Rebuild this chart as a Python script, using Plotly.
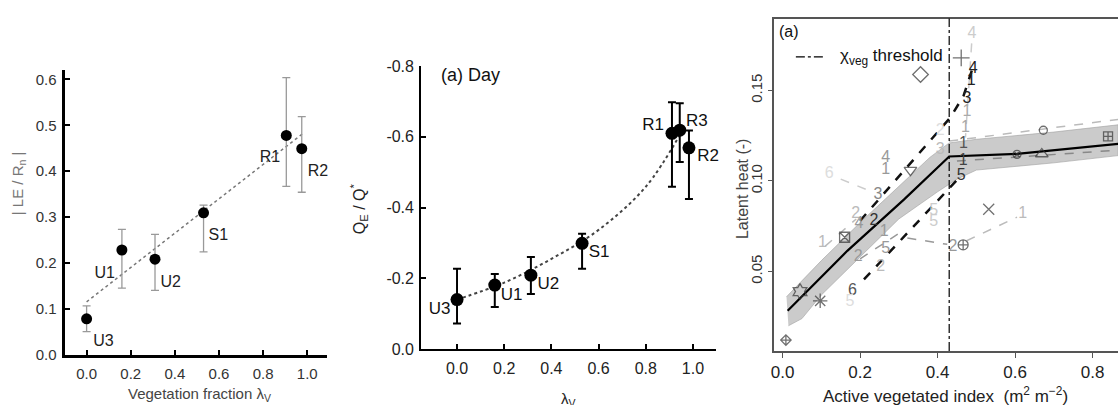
import plotly.graph_objects as go

W, H = 1118, 405
FONT = "Liberation Sans, Arial, sans-serif"

# ---------------- Panel 1 : |LE/Rn| vs vegetation fraction ----------------
p1_sites = ["U3", "U1", "U2", "S1", "R1", "R2"]
p1_x = [0.0, 0.16, 0.31, 0.53, 0.905, 0.975]
p1_y = [0.078, 0.228, 0.208, 0.309, 0.478, 0.449]
p1_hi = [0.106, 0.273, 0.262, 0.326, 0.604, 0.519]
p1_lo = [0.050, 0.145, 0.140, 0.224, 0.367, 0.354]
p1_lab_x = [0.076, 0.082, 0.381, 0.597, 0.831, 1.048]
p1_lab_y = [0.028, 0.176, 0.157, 0.258, 0.428, 0.398]
p1_fit_x = [0.0, 0.98]
p1_fit_y = [0.115, 0.482]
p1_xticks = [0.0, 0.2, 0.4, 0.6, 0.8, 1.0]
p1_yticks = [0.0, 0.1, 0.2, 0.3, 0.4, 0.5, 0.6]

# ---------------- Panel 2 : QE/Q* (day) ----------------
p2_sites = ["U3", "U1", "U2", "S1", "R1", "R3", "R2"]
p2_x = [0.0, 0.16, 0.313, 0.53, 0.911, 0.944, 0.983]
p2_y = [-0.140, -0.181, -0.209, -0.299, -0.610, -0.619, -0.569]
p2_hi = [-0.227, -0.212, -0.260, -0.326, -0.698, -0.695, -0.618]
p2_lo = [-0.072, -0.119, -0.156, -0.227, -0.459, -0.529, -0.424]
p2_lab_x = [-0.074, 0.231, 0.387, 0.602, 0.831, 1.017, 1.064]
p2_lab_y = [-0.111, -0.152, -0.181, -0.272, -0.632, -0.643, -0.545]
p2_fit_x = [0.0, 0.2, 0.4, 0.6, 0.8, 0.95]
p2_fit_y = [-0.140, -0.188, -0.255, -0.337, -0.459, -0.612]
p2_xticks = [0.0, 0.2, 0.4, 0.6, 0.8, 1.0]
p2_yticks = [0.0, -0.2, -0.4, -0.6, -0.8]

# ---------------- Panel 3 : latent heat vs active vegetated index ----------------
p3_threshold = 0.43
p3_main_x = [0.013, 0.167, 0.313, 0.43, 0.605, 0.75, 0.866]
p3_main_y = [0.0283, 0.0614, 0.0897, 0.1135, 0.1150, 0.1180, 0.1205]
p3_band_x = [0.01, 0.1, 0.2, 0.3, 0.38, 0.43, 0.5, 0.7, 0.866,
             0.866, 0.7, 0.5, 0.45, 0.4, 0.3, 0.2, 0.1, 0.05, 0.015]
p3_band_y = [0.036, 0.056, 0.077, 0.097, 0.113, 0.121, 0.123, 0.127, 0.131,
             0.114, 0.110, 0.106, 0.101, 0.094, 0.079, 0.058, 0.037, 0.024, 0.020]
p3_up_dash_x = [0.20, 0.433, 0.467, 0.49]
p3_up_dash_y = [0.078, 0.135, 0.147, 0.162]
p3_lo_dash_x = [0.21, 0.45]
p3_lo_dash_y = [0.0456, 0.1005]
# thin grey site-lines (x pairs, y pairs, colour)
p3_site_lines = [
    ([0.475, 0.605], [0.067, 0.080], "#bbbbbb"),
    ([0.322, 0.425], [0.0685, 0.065], "#999999"),
    ([0.150, 0.219], [0.101, 0.095], "#cccccc"),
    ([0.488, 0.472], [0.176, 0.124], "#cccccc"),
    ([0.43, 0.866], [0.122, 0.134], "#bbbbbb"),
    ([0.45, 0.866], [0.111, 0.117], "#888888"),
    ([0.11, 0.19], [0.064, 0.079], "#bbbbbb"),
    ([0.20, 0.30], [0.057, 0.071], "#999999"),
]
p3_mk_x = [0.356, 0.461, 0.673, 0.840, 0.669, 0.605, 0.330, 0.160, 0.466, 0.532, 0.045, 0.097, 0.0085]
p3_mk_y = [0.1588, 0.168, 0.128, 0.1246, 0.1149, 0.1147, 0.106, 0.0689, 0.0647, 0.0844, 0.0389, 0.0338, 0.0121]
p3_mk_sym = ["diamond-open", "cross-thin-open", "circle-open", "square-cross-open",
             "triangle-up-open", "circle-x-open", "triangle-down-open", "square-x-open",
             "circle-cross-open", "x-thin-open", "hexagram-open", "asterisk-open",
             "diamond-cross-open"]
p3_mk_size = [12, 12, 8, 9, 11, 8, 11, 10, 10, 11, 12, 12, 8]
p3_lab_txt = ["6", "4", "1", "3", "2", "3", "2", "5", "1", "1",
              "4", "4", "1", "3", "1", "1",
              "2", "4", "1", "1", "2", "5", "2", "6", "5", "5", "5", "2", "1"]
p3_lab_x = [0.120, 0.266, 0.266, 0.246, 0.236, 0.407, 0.407, 0.461, 0.466, 0.467,
            0.489, 0.492, 0.487, 0.476, 0.476, 0.472,
            0.189, 0.197, 0.103, 0.262, 0.195, 0.266, 0.253, 0.180, 0.174, 0.39, 0.39, 0.440, 0.620]
p3_lab_y = [0.1038, 0.1126, 0.1061, 0.0923, 0.078, 0.117, 0.1276, 0.1029, 0.1108, 0.1205,
            0.1814, 0.162, 0.155, 0.1452, 0.1382, 0.1290,
            0.0817, 0.0765, 0.0659, 0.072, 0.0579, 0.0623, 0.0526, 0.0394, 0.0329, 0.0835, 0.0774, 0.0636, 0.0815]
p3_lab_col = ["#dddddd", "#999999", "#999999", "#888888", "#333333", "#bbbbbb", "#dddddd", "#333333", "#444444", "#555555",
              "#cccccc", "#222222", "#222222", "#222222", "#aaaaaa", "#aaaaaa",
              "#bbbbbb", "#999999", "#bbbbbb", "#999999", "#999999", "#999999", "#bbbbbb", "#555555", "#dddddd", "#cccccc", "#cccccc", "#999999", "#bbbbbb"]
p3_xticks = [0.0, 0.2, 0.4, 0.6, 0.8]
p3_yticks = [0.05, 0.10, 0.15]


def px2x(px):
    return px / W


def px2y(py):
    return 1 - py / H


fig = go.Figure()

# ---- panel 1 traces ----
fig.add_trace(go.Scatter(x=p1_fit_x, y=p1_fit_y, mode="lines", xaxis="x", yaxis="y",
                         line=dict(color="#777777", width=1.5, dash="dot"), hoverinfo="skip"))
fig.add_trace(go.Scatter(
    x=p1_x, y=p1_y, mode="markers", xaxis="x", yaxis="y",
    marker=dict(color="black", size=11),
    error_y=dict(type="data", symmetric=False,
                 array=[h - v for h, v in zip(p1_hi, p1_y)],
                 arrayminus=[v - l for l, v in zip(p1_lo, p1_y)],
                 color="#999999", thickness=1.3, width=4)))
fig.add_trace(go.Scatter(x=p1_lab_x, y=p1_lab_y, text=p1_sites, mode="text", xaxis="x", yaxis="y",
                         cliponaxis=False, textfont=dict(family=FONT, size=16, color="#222222")))

# ---- panel 2 traces ----
fig.add_trace(go.Scatter(x=p2_fit_x, y=p2_fit_y, mode="lines", xaxis="x2", yaxis="y2",
                         line=dict(color="#444444", width=2, dash="dot", shape="spline")))
fig.add_trace(go.Scatter(
    x=p2_x, y=p2_y, mode="markers", xaxis="x2", yaxis="y2",
    marker=dict(color="black", size=13),
    error_y=dict(type="data", symmetric=False,
                 array=[h - v for h, v in zip(p2_hi, p2_y)],
                 arrayminus=[v - l for l, v in zip(p2_lo, p2_y)],
                 color="black", thickness=2, width=4)))
fig.add_trace(go.Scatter(x=p2_lab_x, y=p2_lab_y, text=p2_sites, mode="text", xaxis="x2", yaxis="y2",
                         cliponaxis=False, textfont=dict(family=FONT, size=17, color="#111111")))

# ---- panel 3 traces ----
fig.add_trace(go.Scatter(x=p3_band_x, y=p3_band_y, mode="lines", fill="toself", xaxis="x3", yaxis="y3",
                         fillcolor="rgba(185,185,185,0.75)", line=dict(color="rgba(160,160,160,0.6)", width=1)))
for sx, sy, col in p3_site_lines:
    fig.add_trace(go.Scatter(x=sx, y=sy, mode="lines", xaxis="x3", yaxis="y3",
                             line=dict(color=col, width=1.5, dash="dash")))
fig.add_trace(go.Scatter(x=p3_up_dash_x, y=p3_up_dash_y, mode="lines", xaxis="x3", yaxis="y3",
                         line=dict(color="#111111", width=2.5, dash="dash")))
fig.add_trace(go.Scatter(x=p3_lo_dash_x, y=p3_lo_dash_y, mode="lines", xaxis="x3", yaxis="y3",
                         line=dict(color="#111111", width=2.5, dash="dash")))
fig.add_trace(go.Scatter(x=p3_main_x, y=p3_main_y, mode="lines", xaxis="x3", yaxis="y3",
                         line=dict(color="black", width=2.2)))
fig.add_trace(go.Scatter(x=p3_lab_x, y=p3_lab_y, text=p3_lab_txt, mode="text", xaxis="x3", yaxis="y3",
                         textfont=dict(family=FONT, size=16, color=p3_lab_col)))
fig.add_trace(go.Scatter(x=p3_mk_x, y=p3_mk_y, mode="markers", xaxis="x3", yaxis="y3",
                         marker=dict(symbol=p3_mk_sym, size=p3_mk_size, color="#333333",
                                     line=dict(color="#333333", width=1.3))))

# threshold line
fig.add_shape(type="line", xref="x3", yref="y3 domain", x0=p3_threshold, x1=p3_threshold, y0=0, y1=1,
              line=dict(color="black", width=1.2, dash="dashdot"))
# legend sample
fig.add_shape(type="line", xref="paper", yref="paper", x0=px2x(795), x1=px2x(823), y0=px2y(51), y1=px2y(51),
              line=dict(color="black", width=1.2, dash="dashdot"))


def note(px, py, text, size, color, angle=0, xanchor="center"):
    return dict(x=px2x(px), y=px2y(py), xref="paper", yref="paper", xanchor=xanchor, yanchor="middle",
                text=text, showarrow=False, textangle=angle, font=dict(family=FONT, size=size, color=color))


ann = [
    note(837, 51, "χ<sub>veg</sub> threshold", 17, "#111", xanchor="left"),
    note(776, 25, "(a)", 16, "#111", xanchor="left"),
    note(437, 70, "(a) Day", 18, "#111", xanchor="left"),
    note(15, 183, "| LE / R<sub>n</sub> |", 15, "#777", angle=-90),
    note(197, 403, "Vegetation fraction λ<sub>V</sub>", 15, "#444"),
    note(357, 210, "Q<sub>E</sub> / Q<sup>*</sup>", 16, "#222", angle=-90),
    note(567, 409, "λ<sub>V</sub>", 15, "#222"),
    note(741, 189, "Latent heat (-)", 16, "#444", angle=-90),
    note(945, 404, "Active vegetated index  (m<sup>2</sup> m<sup>−2</sup>)", 17, "#222"),
]


def fmt(v, d):
    return f"{v:.{d}f}"


common = dict(showgrid=False, zeroline=False, showline=True)

fig.update_layout(
    width=W, height=H, autosize=False, margin=dict(l=0, r=0, t=0, b=0),
    paper_bgcolor="white", plot_bgcolor="white", showlegend=False,
    font=dict(family=FONT),
    annotations=ann,
    xaxis=dict(domain=[px2x(61.7), px2x(325)], range=[-0.1, 1.09], anchor="y",
               tickvals=p1_xticks, ticktext=[fmt(v, 1) for v in p1_xticks],
               ticks="inside", ticklen=5, tickwidth=2, tickcolor="black", linewidth=3, linecolor="black",
               tickfont=dict(size=15, color="#333"), ticklabelstandoff=3, **common),
    yaxis=dict(domain=[px2y(362.7), px2y(65)], range=[-0.002, 0.62], anchor="x",
               tickvals=p1_yticks, ticktext=[fmt(v, 1) for v in p1_yticks],
               ticks="inside", ticklen=5, tickwidth=2, tickcolor="black", linewidth=3, linecolor="black",
               tickfont=dict(size=15, color="#333"), ticklabelstandoff=2, **common),
    xaxis2=dict(domain=[px2x(419.3), px2x(715)], range=[-0.152, 1.098], anchor="y2",
                tickvals=p2_xticks, ticktext=[fmt(v, 1) for v in p2_xticks],
                ticks="inside", ticklen=5, tickwidth=1.5, tickcolor="black", linewidth=2, linecolor="black",
                tickfont=dict(size=16, color="#222"), ticklabelstandoff=4, **common),
    yaxis2=dict(domain=[px2y(356), px2y(60.7)], range=[0, -0.8], anchor="x2",
                tickvals=p2_yticks, ticktext=[fmt(v, 1) for v in p2_yticks],
                ticks="inside", ticklen=5, tickwidth=1.5, tickcolor="black", linewidth=2, linecolor="black",
                tickfont=dict(size=16, color="#222"), ticklabelstandoff=2, **common),
    xaxis3=dict(domain=[px2x(773), 1.0], range=[-0.0224, 0.8657], anchor="y3", mirror=True,
                tickvals=p3_xticks, ticktext=[fmt(v, 1) for v in p3_xticks],
                ticks="outside", ticklen=5, tickwidth=1.2, tickcolor="#555", linewidth=1.5, linecolor="#555",
                tickfont=dict(size=17, color="#222"), ticklabelstandoff=0, **common),
    yaxis3=dict(domain=[px2y(358), px2y(11)], range=[0.0061, 0.1897], anchor="x3",
                tickvals=p3_yticks, ticktext=[fmt(v, 2) for v in p3_yticks], tickangle=-90,
                ticks="outside", ticklen=4, tickwidth=1.2, tickcolor="#555", linewidth=1.5, linecolor="#555",
                tickfont=dict(size=15, color="#333"), ticklabelstandoff=0, **common),
)

fig.write_html("out.html")
